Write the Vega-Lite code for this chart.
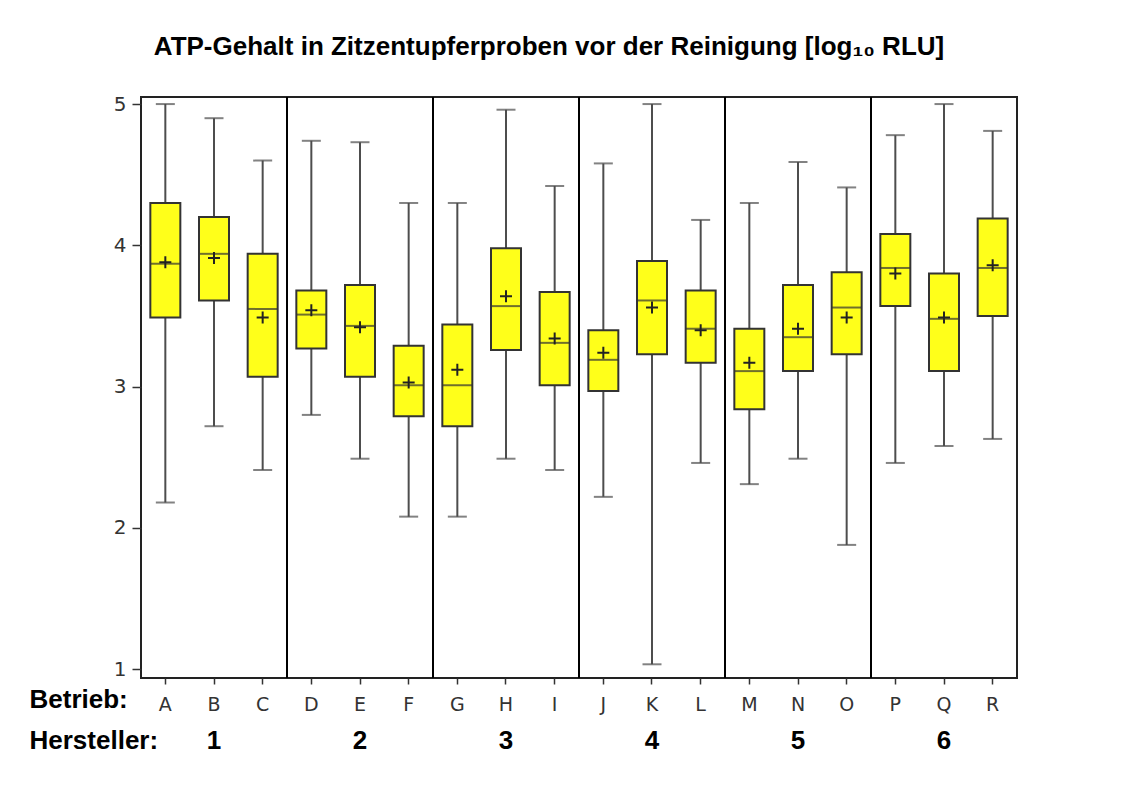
{
  "$schema": "https://vega.github.io/schema/vega-lite/v6.json",
  "autosize": {"type": "none"},
  "width": 876,
  "height": 581,
  "padding": {"left": 141, "top": 97, "right": 119, "bottom": 109},
  "background": "white",
  "title": {
    "text": "ATP-Gehalt in Zitzentupferproben vor der Reinigung [log₁₀ RLU]",
    "font": "Liberation Sans",
    "fontSize": 26,
    "fontWeight": "bold",
    "color": "black",
    "anchor": "middle",
    "dx": -30,
    "baseline": "alphabetic",
    "offset": 13
  },
  "config": {
    "view": {"stroke": "#222", "strokeWidth": 2},
    "axis": {"grid": false}
  },
  "datasets": {
    "boxes": [
      {"Betrieb": "A", "Hersteller": "1", "lower": 2.18, "q1": 3.49, "median": 3.87, "q3": 4.30, "upper": 5.00, "mean": 3.88},
      {"Betrieb": "B", "Hersteller": "1", "lower": 2.72, "q1": 3.61, "median": 3.94, "q3": 4.20, "upper": 4.90, "mean": 3.91},
      {"Betrieb": "C", "Hersteller": "1", "lower": 2.41, "q1": 3.07, "median": 3.55, "q3": 3.94, "upper": 4.60, "mean": 3.49},
      {"Betrieb": "D", "Hersteller": "2", "lower": 2.80, "q1": 3.27, "median": 3.51, "q3": 3.68, "upper": 4.74, "mean": 3.54},
      {"Betrieb": "E", "Hersteller": "2", "lower": 2.49, "q1": 3.07, "median": 3.43, "q3": 3.72, "upper": 4.73, "mean": 3.42},
      {"Betrieb": "F", "Hersteller": "2", "lower": 2.08, "q1": 2.79, "median": 3.01, "q3": 3.29, "upper": 4.30, "mean": 3.03},
      {"Betrieb": "G", "Hersteller": "3", "lower": 2.08, "q1": 2.72, "median": 3.01, "q3": 3.44, "upper": 4.30, "mean": 3.12},
      {"Betrieb": "H", "Hersteller": "3", "lower": 2.49, "q1": 3.26, "median": 3.57, "q3": 3.98, "upper": 4.96, "mean": 3.64},
      {"Betrieb": "I", "Hersteller": "3", "lower": 2.41, "q1": 3.01, "median": 3.31, "q3": 3.67, "upper": 4.42, "mean": 3.34},
      {"Betrieb": "J", "Hersteller": "4", "lower": 2.22, "q1": 2.97, "median": 3.19, "q3": 3.40, "upper": 4.58, "mean": 3.24},
      {"Betrieb": "K", "Hersteller": "4", "lower": 1.035, "q1": 3.23, "median": 3.61, "q3": 3.89, "upper": 5.00, "mean": 3.56},
      {"Betrieb": "L", "Hersteller": "4", "lower": 2.46, "q1": 3.17, "median": 3.41, "q3": 3.68, "upper": 4.18, "mean": 3.40},
      {"Betrieb": "M", "Hersteller": "5", "lower": 2.31, "q1": 2.84, "median": 3.11, "q3": 3.41, "upper": 4.30, "mean": 3.17},
      {"Betrieb": "N", "Hersteller": "5", "lower": 2.49, "q1": 3.11, "median": 3.35, "q3": 3.72, "upper": 4.59, "mean": 3.41},
      {"Betrieb": "O", "Hersteller": "5", "lower": 1.88, "q1": 3.23, "median": 3.56, "q3": 3.81, "upper": 4.41, "mean": 3.49},
      {"Betrieb": "P", "Hersteller": "6", "lower": 2.46, "q1": 3.57, "median": 3.84, "q3": 4.08, "upper": 4.78, "mean": 3.80},
      {"Betrieb": "Q", "Hersteller": "6", "lower": 2.58, "q1": 3.11, "median": 3.48, "q3": 3.80, "upper": 5.00, "mean": 3.49},
      {"Betrieb": "R", "Hersteller": "6", "lower": 2.63, "q1": 3.50, "median": 3.84, "q3": 4.19, "upper": 4.81, "mean": 3.86}
    ],
    "groups": [
      {"Hersteller": "2"},
      {"Hersteller": "3"},
      {"Hersteller": "4"},
      {"Hersteller": "5"},
      {"Hersteller": "6"}
    ]
  },
  "resolve": {"scale": {"x": "independent"}, "axis": {"x": "independent"}},
  "layer": [
    {
      "data": {"name": "boxes"},
      "encoding": {
        "x": {
          "field": "Betrieb",
          "type": "nominal",
          "sort": null,
          "scale": {"type": "band", "paddingInner": 0, "paddingOuter": 0},
          "axis": {
            "orient": "bottom",
            "labelAngle": 0,
            "domain": false,
            "tickSize": 6,
            "tickWidth": 1.5,
            "tickColor": "#333",
            "labelFont": "DejaVu Sans",
            "labelFontWeight": "normal",
            "labelFontSize": 19,
            "labelColor": "#333",
            "labelBaseline": "alphabetic",
            "labelPadding": 26,
            "title": "Betrieb:",
            "titleFont": "Liberation Sans",
            "titleFontSize": 26,
            "titleFontWeight": "bold",
            "titleColor": "black",
            "titleAlign": "left",
            "titleAnchor": "start",
            "titleBaseline": "alphabetic",
            "titleX": -112,
            "titleY": 29
          }
        }
      },
      "layer": [
        {
          "mark": {"type": "rule", "color": "#4d4d4d", "strokeWidth": 2},
          "encoding": {
            "y": {
              "field": "lower",
              "type": "quantitative",
              "scale": {"domain": [0.938, 5.05], "nice": false, "zero": false},
              "axis": {
                "values": [1, 2, 3, 4, 5],
                "format": "d",
                "domain": false,
                "tickSize": 9,
                "tickWidth": 1.5,
                "tickColor": "#333",
                "labelFont": "DejaVu Sans",
                "labelFontWeight": "normal",
                "labelFontSize": 20,
                "labelColor": "#333",
                "labelPadding": 6,
                "title": null
              }
            },
            "y2": {"field": "upper"}
          }
        },
        {
          "mark": {"type": "tick", "color": "#4d4d4d", "size": 19, "thickness": 2},
          "encoding": {"y": {"field": "lower", "type": "quantitative"}}
        },
        {
          "mark": {"type": "tick", "color": "#4d4d4d", "size": 19, "thickness": 2},
          "encoding": {"y": {"field": "upper", "type": "quantitative"}}
        },
        {
          "mark": {"type": "bar", "size": 30, "fill": "#ffff1a", "stroke": "#333", "strokeWidth": 2},
          "encoding": {
            "y": {"field": "q1", "type": "quantitative"},
            "y2": {"field": "q3"}
          }
        },
        {
          "mark": {"type": "tick", "color": "#333", "size": 30, "thickness": 2},
          "encoding": {"y": {"field": "median", "type": "quantitative"}}
        },
        {
          "mark": {"type": "point", "shape": "M-1,0H1M0,-1V1", "filled": false, "stroke": "#222", "strokeWidth": 2, "size": 144, "opacity": 1},
          "encoding": {"y": {"field": "mean", "type": "quantitative"}}
        }
      ]
    },
    {
      "data": {"name": "groups"},
      "mark": {"type": "rule", "color": "black", "strokeWidth": 2},
      "encoding": {
        "x": {
          "field": "Hersteller",
          "type": "nominal",
          "bandPosition": 0,
          "scale": {"type": "band", "domain": ["1", "2", "3", "4", "5", "6"], "paddingInner": 0, "paddingOuter": 0},
          "axis": {
            "orient": "bottom",
            "labelAngle": 0,
            "domain": false,
            "ticks": false,
            "tickSize": 0,
            "labelFont": "Liberation Sans",
            "labelFontSize": 26,
            "labelFontWeight": "bold",
            "labelColor": "black",
            "labelBaseline": "alphabetic",
            "labelPadding": 70,
            "title": "Hersteller:",
            "titleFont": "Liberation Sans",
            "titleFontSize": 26,
            "titleFontWeight": "bold",
            "titleColor": "black",
            "titleAlign": "left",
            "titleAnchor": "start",
            "titleBaseline": "alphabetic",
            "titleX": -112,
            "titleY": 70
          }
        }
      }
    }
  ]
}
